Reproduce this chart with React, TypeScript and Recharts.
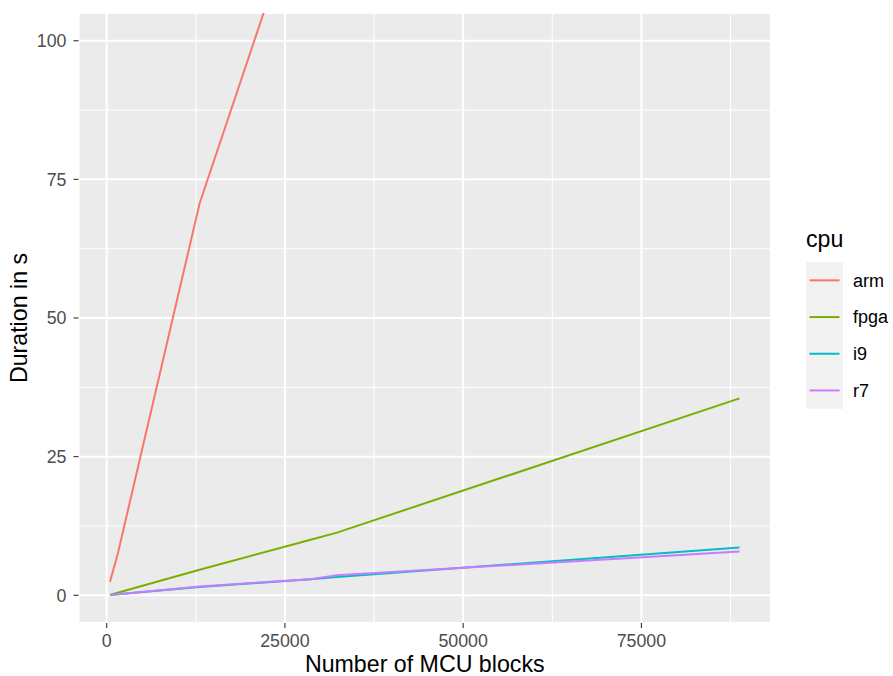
import React from "react";
import { LineChart, Line, XAxis, YAxis, CartesianGrid, Legend, Label, ReferenceLine } from "recharts";

const blocks = [462, 1540, 13020, 28600, 32300, 88760];
const arm = [2.45, 7.4, 70.6, 130.2, 144, 360];
const fpga = [0.05, 0.45, 4.6, 10.0, 11.3, 35.5];
const i9 = [0.05, 0.2, 1.5, 2.9, 3.3, 8.6];
const r7 = [0.05, 0.2, 1.6, 2.9, 3.6, 7.9];

const seriesNames = ["arm", "fpga", "i9", "r7"];
const seriesColors = ["#F8766D", "#7CAE00", "#00BFC4", "#C77CFF"];

const xTicks = [0, 25000, 50000, 75000];
const xMinorTicks = [12500, 37500, 62500, 87500];
const yTicks = [0, 25, 50, 75, 100];
const yMinorTicks = [12.5, 37.5, 62.5, 87.5];

const data = blocks.map((b, i) => ({ blocks: b, arm: arm[i], fpga: fpga[i], i9: i9[i], r7: r7[i] }));

const xMin = Math.min(...blocks);
const xMax = Math.max(...blocks);
const xRange = xMax - xMin;
const xDomain = [xMin - 0.05 * xRange, xMax + 0.05 * xRange];

const FONT = "'Liberation Sans', Arimo, Arial, sans-serif";
const TITLE_SIZE = 23.2;

const LegendContent = (props: any) => {
  const payload = props.payload || [];
  const keyH = 36.7;
  const keyW = 37;
  return (
    <svg width={90} height={200} style={{ overflow: "visible", display: "block" }}>
      <text x={0} y={22} fontSize={TITLE_SIZE} fill="#000" fontFamily={FONT}>cpu</text>
      {payload.map((p: any, i: number) => {
        const top = 37 + i * keyH;
        return (
          <g key={p.value}>
            <rect x={0} y={top} width={keyW} height={keyH} fill="#F2F2F2" />
            <line x1={3.5} x2={33.5} y1={top + keyH / 2} y2={top + keyH / 2} stroke={p.color} strokeWidth={2} />
            <text x={47} y={top + keyH / 2} dy="0.35em" fontSize={18} fill="#000" fontFamily={FONT}>{p.value}</text>
          </g>
        );
      })}
    </svg>
  );
};

export default function App() {
  return (
    <div style={{ position: "absolute", left: 0, top: 0, fontFamily: FONT }}>
      <LineChart width={893} height={676} data={data} margin={{ top: 13, right: 122, bottom: 0, left: 0 }}>
        <CartesianGrid fill="#EBEBEB" stroke="#FFFFFF" strokeWidth={2} />
        {yMinorTicks.map((v) => (
          <ReferenceLine key={"y" + v} y={v} stroke="#FFFFFF" strokeWidth={1} zIndex={-90} ifOverflow="hidden" />
        ))}
        {xMinorTicks.map((v) => (
          <ReferenceLine key={"x" + v} x={v} stroke="#FFFFFF" strokeWidth={1} zIndex={-90} ifOverflow="hidden" />
        ))}
        <XAxis
          dataKey="blocks"
          type="number"
          domain={xDomain}
          ticks={xTicks}
          allowDataOverflow
          height={53}
          axisLine={false}
          tickLine={{ stroke: "#333333", strokeWidth: 1.1 }}
          tickSize={5}
          tickMargin={6}
          tick={{ fill: "#4D4D4D", fontSize: 17.8, fontFamily: FONT }}
        >
          <Label
            content={(p: any) => {
              const vb = p.viewBox;
              return (
                <text x={vb.x + vb.width / 2} y={vb.y + vb.height - 4} textAnchor="middle" fontSize={TITLE_SIZE} fill="#000" fontFamily={FONT}>
                  Number of MCU blocks
                </text>
              );
            }}
          />
        </XAxis>
        <YAxis
          type="number"
          domain={[-5, 105]}
          ticks={yTicks}
          allowDataOverflow
          width={78.5}
          axisLine={false}
          tickLine={{ stroke: "#333333", strokeWidth: 1.1 }}
          tickSize={5}
          tickMargin={7}
          tick={{ fill: "#4D4D4D", fontSize: 17.8, fontFamily: FONT }}
        >
          <Label
            content={(p: any) => {
              const vb = p.viewBox;
              const cx = vb.x + 27;
              const cy = vb.y + vb.height / 2;
              return (
                <text x={cx} y={cy} transform={`rotate(-90, ${cx}, ${cy})`} textAnchor="middle" fontSize={TITLE_SIZE} fill="#000" fontFamily={FONT}>
                  Duration in s
                </text>
              );
            }}
          />
        </YAxis>
        {seriesNames.map((n, i) => (
          <Line
            key={n}
            type="linear"
            dataKey={n}
            name={n}
            stroke={seriesColors[i]}
            strokeWidth={2}
            dot={false}
            activeDot={false}
            isAnimationActive={false}
          />
        ))}
        <Legend
          layout="horizontal"
          verticalAlign="middle"
          align="center"
          content={<LegendContent />}
          wrapperStyle={{ left: 806, top: 225, width: 90, height: 200 }}
        />
      </LineChart>
    </div>
  );
}
